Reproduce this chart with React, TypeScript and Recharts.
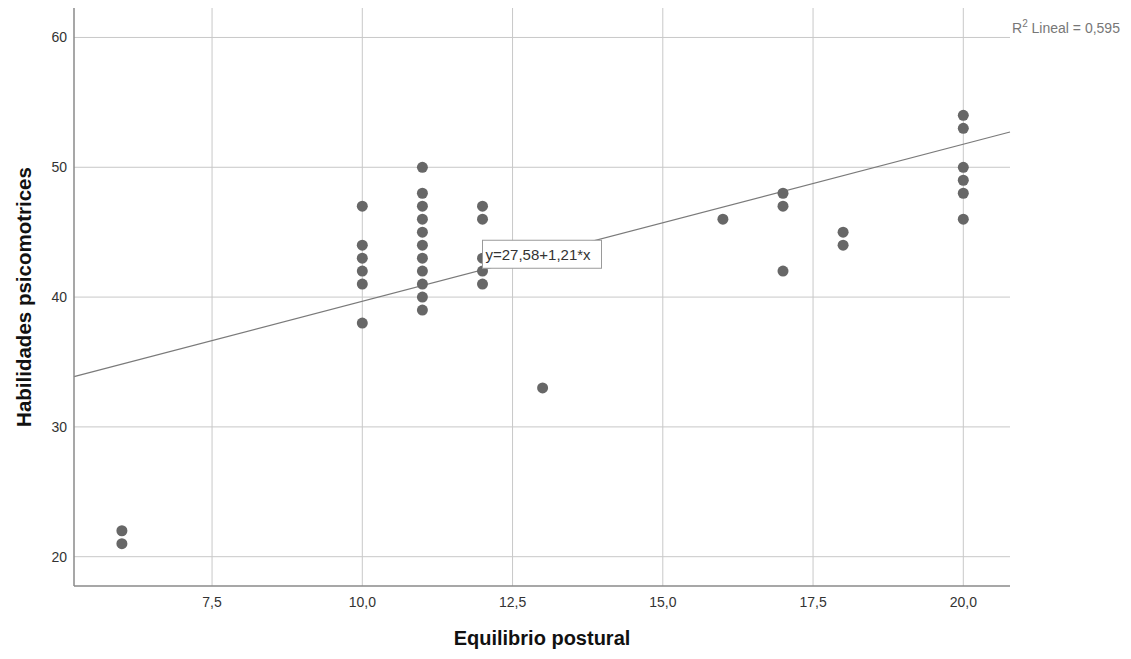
import React from 'react';
import { ScatterChart, Scatter, XAxis, YAxis, ReferenceLine, ReferenceDot } from 'recharts';

const equilibrio = [6, 6, 10, 10, 10, 10, 10, 10, 11, 11, 11, 11, 11, 11, 11, 11, 11, 11, 11, 12, 12, 12, 12, 12, 13, 16, 17, 17, 17, 18, 18, 20, 20, 20, 20, 20, 20];
const habilidades = [22, 21, 47, 44, 43, 42, 41, 38, 50, 48, 47, 46, 45, 44, 43, 42, 41, 40, 39, 47, 46, 43, 42, 41, 33, 46, 48, 47, 42, 45, 44, 54, 53, 50, 49, 48, 46];
const xTicks = [7.5, 10, 12.5, 15, 17.5, 20];
const yTicks = [20, 30, 40, 50, 60];
const xDomain = [5.203, 20.777];
const yDomain = [17.743, 62.27];
const intercept = 27.58;
const slope = 1.21;
const r2 = '0,595';
const equationLabel = 'y=27,58+1,21*x';
const eqAnchor = { x: 12, y: 43.3 };

const points = equilibrio.map((x, i) => ({ x, y: habilidades[i] }));
const FONT = '"Liberation Sans", Arial, sans-serif';
const fmt = (v: number) => v.toFixed(1).replace('.', ',');
const GRID = '#c8c8c8';

const Dot = (props: any) => <circle cx={props.cx} cy={props.cy} r={5.5} fill="#676767" />;

const EqBox = (props: any) => (
  <g>
    <rect x={props.cx} y={props.cy - 14} width={119} height={28} fill="#fff" stroke="#9a9a9a" strokeWidth={1} />
    <text x={props.cx + 3} y={props.cy + 5.5} fontSize={15} fontFamily={FONT} fill="#333">{equationLabel}</text>
  </g>
);

const YLabel = (props: any) => {
  const vb = props.viewBox || { x: 0, y: 0, width: 66, height: 578 };
  const cx = 23;
  const cy = vb.y + vb.height / 2;
  return (
    <text x={cx} y={cy} transform={`rotate(-90, ${cx}, ${cy})`} textAnchor="middle" fontSize={20.5} fontWeight="bold" fontFamily={FONT} fill="#111">
      Habilidades psicomotrices
    </text>
  );
};

const XLabel = (props: any) => {
  const vb = props.viewBox || { x: 66, y: 578, width: 936, height: 73 };
  return (
    <text x={vb.x + vb.width / 2} y={637} textAnchor="middle" fontSize={20} fontWeight="bold" fontFamily={FONT} fill="#111">
      Equilibrio postural
    </text>
  );
};

export default function App() {
  return (
    <div style={{ position: 'relative', width: 1123, height: 651, background: '#fff' }}>
      <ScatterChart width={1123} height={651} margin={{ top: 0, right: 121, bottom: 0, left: 0 }}>
        <XAxis
          type="number"
          dataKey="x"
          domain={xDomain}
          ticks={xTicks}
          allowDataOverflow
          height={73}
          tickFormatter={fmt}
          tickSize={0}
          tickMargin={11}
          tickLine={false}
          axisLine={{ stroke: '#8a8a8a', strokeWidth: 1.5 }}
          tick={{ fill: '#333', fontSize: 14, fontFamily: FONT }}
          label={<XLabel />}
        />
        <YAxis
          type="number"
          dataKey="y"
          domain={yDomain}
          ticks={yTicks}
          allowDataOverflow
          width={66}
          tickSize={0}
          tickMargin={7}
          tickLine={false}
          axisLine={{ stroke: '#8a8a8a', strokeWidth: 1.5 }}
          tick={{ fill: '#333', fontSize: 14, fontFamily: FONT }}
          label={<YLabel />}
        />
        {xTicks.map((t) => (
          <ReferenceLine key={`vx${t}`} x={t} stroke={GRID} strokeWidth={1} />
        ))}
        {yTicks.map((t) => (
          <ReferenceLine key={`hy${t}`} y={t} stroke={GRID} strokeWidth={1} />
        ))}
        <ReferenceLine
          segment={[
            { x: xDomain[0], y: intercept + slope * xDomain[0] },
            { x: xDomain[1], y: intercept + slope * xDomain[1] },
          ]}
          stroke="#7a7a7a"
          strokeWidth={1.2}
          ifOverflow="visible"
        />
        <Scatter data={points} shape={<Dot />} isAnimationActive={false} />
        <ReferenceDot x={eqAnchor.x} y={eqAnchor.y} r={0} shape={<EqBox />} ifOverflow="visible" />
      </ScatterChart>
      <div style={{ position: 'absolute', left: 1004, top: 10, fontSize: 14, fontFamily: FONT, color: '#777', whiteSpace: 'nowrap' }}>
        R<sup style={{ fontSize: 10 }}>2</sup> Lineal = {r2}
      </div>
    </div>
  );
}
